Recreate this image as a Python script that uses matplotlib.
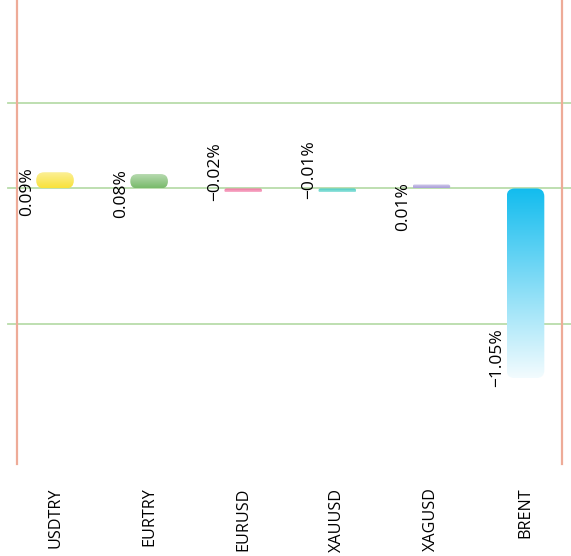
import numpy as np
import matplotlib
matplotlib.use('Agg')
import matplotlib.pyplot as plt
from matplotlib.patches import FancyBboxPatch
from matplotlib.colors import to_rgb

plt.rcParams['font.family'] = ['Open Sans', 'DejaVu Sans']

# data
categories = ['USDTRY', 'EURTRY', 'EURUSD', 'XAUUSD', 'XAGUSD', 'BRENT']
changes = [0.09, 0.08, -0.02, -0.01, 0.01, -1.05]
colors = ['#f9e23a', '#78ba6a', '#f0689a', '#3ccabf', '#a89cd8', '#12bcee']
grid_vals = [0.475, 0.0, -0.751]

fig = plt.figure(figsize=(5.71, 5.56), dpi=100)
ax = fig.add_axes([17/571, 92/556, 545/571, 464/556])
xlim = (-0.404, 5.388)
ylim = (-1.526, 1.044)
ax.set_xlim(*xlim)
ax.set_ylim(*ylim)

# axis look
for s in ['top', 'bottom']:
    ax.spines[s].set_visible(False)
for s in ['left', 'right']:
    ax.spines[s].set_color('#eeab98')
    ax.spines[s].set_linewidth(1.6)
ax.set_yticks([])

for g in grid_vals:
    ax.axhline(g, xmin=-9/545, xmax=1 + 9/545, color='#b9dcaa', lw=1.3,
               clip_on=False, zorder=1)

# bars (invisible, only used for geometry)
bars = ax.bar(range(len(categories)), changes, width=0.4, alpha=0)

p0 = ax.transData.transform((0, 0))
p1 = ax.transData.transform((1, 1))
px_x = p1[0] - p0[0]
px_y = p1[1] - p0[1]
aspect = px_x / px_y
r_px = 8
min_px = 4  # small bars are drawn at least this tall

for rect, col, v in zip(bars, colors, changes):
    x0 = rect.get_x()
    w = rect.get_width()
    h = max(abs(rect.get_height()), min_px / px_y)
    y0 = 0 if v >= 0 else -h
    r = min(r_px / px_x, w / 2, (h / aspect) / 2)
    patch = FancyBboxPatch((x0, y0), w, h,
                           boxstyle=f"round,pad=0,rounding_size={r}",
                           mutation_aspect=aspect, transform=ax.transData,
                           facecolor='none', edgecolor='none')
    ax.add_patch(patch)
    t = np.linspace(0, 1, 256)
    base = np.array(to_rgb(col))
    f = 0.95 if h * px_y > 40 else 0.5
    arr = base[None, :] * (1 - f * t[:, None]) + f * t[:, None]
    if v < 0:
        arr = arr[::-1]
    arr = arr[:, None, :]
    im = ax.imshow(arr, extent=[x0, x0 + w, y0, y0 + h], origin='lower',
                   aspect='auto', zorder=3, interpolation='bilinear')
    im.set_clip_path(patch)

# value labels
for i, v in enumerate(changes):
    txt = f"{v:.2f}%".replace('-', '\u2212')
    if v >= 0:
        ax.annotate(txt, xy=(i, v), xytext=(-28 * 0.72, 5 * 0.72),
                    textcoords='offset points', rotation=90,
                    ha='center', va='top', fontsize=12.5, zorder=4)
    else:
        ax.annotate(txt, xy=(i, v), xytext=(-28 * 0.72, -9 * 0.72),
                    textcoords='offset points', rotation=90,
                    ha='center', va='bottom', fontsize=12.5, zorder=4)

ax.set_xlim(*xlim)
ax.set_ylim(*ylim)
ax.set_xticks(range(len(categories)))
ax.set_xticklabels(categories, rotation=90, fontsize=11.6)
ax.tick_params(axis='x', length=0, pad=17)

fig.savefig('out.png', dpi=100)
